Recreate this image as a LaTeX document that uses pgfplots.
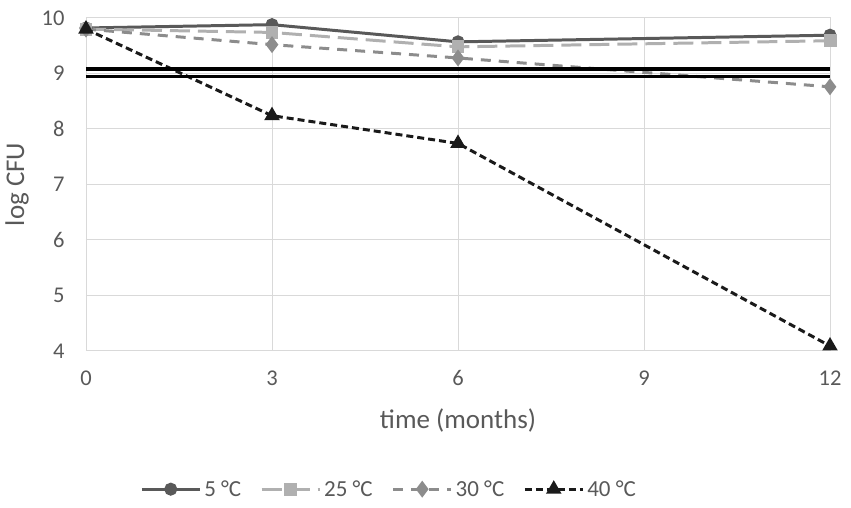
\documentclass[border=0pt]{standalone}
\usepackage{fontspec}
\setmainfont{Carlito}
\usepackage{pgfplots}
\pgfplotsset{compat=1.18}
\definecolor{txt}{HTML}{595959}
\definecolor{c5}{HTML}{595959}
\definecolor{c25}{HTML}{B0B0B0}
\definecolor{c30}{HTML}{8C8C8C}
\definecolor{c40}{HTML}{1A1A1A}
\definecolor{grd}{HTML}{D9D9D9}
\begin{document}
\begin{tikzpicture}
\begin{axis}[
  scale only axis,
  width=744bp, height=333bp,
  xmin=0, xmax=12, ymin=4, ymax=10,
  xtick={0,3,6,9,12}, ytick={4,5,6,7,8,9,10},
  grid=major,
  major grid style={grd, line width=1pt},
  axis line style={grd, line width=1pt},
  tick style={draw=none},
  /pgf/number format/assume math mode=true,
  ticklabel style={font=\fontsize{22.5bp}{26bp}\selectfont, text=txt},
  xticklabel style={yshift=-16bp},
  yticklabel style={xshift=-18bp},
  xlabel={time (months)},
  ylabel={log CFU},
  label style={font=\fontsize{27bp}{30bp}\selectfont, text=txt},
  xlabel style={yshift=-16bp},
  ylabel style={yshift=6bp},
  legend columns=4,
  legend style={at={(0.408,-0.415)}, anchor=center, draw=none,
    font=\fontsize{23bp}{26bp}\selectfont, text=txt,
    /tikz/every even column/.append style={column sep=16bp},
    nodes={inner xsep=3bp}},
  legend image code/.code={
    \draw[#1, mark=none] (0bp,0bp) -- (58bp,0bp);
    \draw[#1, solid] plot coordinates {(29bp,0bp)};
  },
]
\addplot[c5, line width=3pt, mark=*, mark size=5bp, mark options={solid}] coordinates {(0,9.82) (3,9.88) (6,9.57) (12,9.69)};
\addlegendentry{5 °C}
\addplot[c25, line width=3pt, dash pattern=on 20bp off 8bp, mark=square*, mark size=5bp, mark options={solid}] coordinates {(0,9.80) (3,9.74) (6,9.48) (12,9.59)};
\addlegendentry{25 °C}
\addplot[c30, line width=3pt, dash pattern=on 10bp off 8bp, mark=diamond*, mark size=6bp, mark options={solid}] coordinates {(0,9.80) (3,9.52) (6,9.28) (12,8.76)};
\addlegendentry{30 °C}
\addplot[c40, line width=3pt, dash pattern=on 7bp off 4bp, mark=triangle*, mark size=6bp, mark options={solid}] coordinates {(0,9.80) (3,8.24) (6,7.74) (12,4.09)};
\addlegendentry{40 °C}
\addplot[black, line width=3.3pt, forget plot] coordinates {(0,9.08) (12,9.08)};
\addplot[black, line width=3.3pt, forget plot] coordinates {(0,8.94) (12,8.94)};
\end{axis}
\pgfresetboundingbox
\path[use as bounding box] ([shift={(-86bp,-157bp)}]current axis.south west) rectangle ([shift={(21bp,18bp)}]current axis.north east);
\end{tikzpicture}
\end{document}
